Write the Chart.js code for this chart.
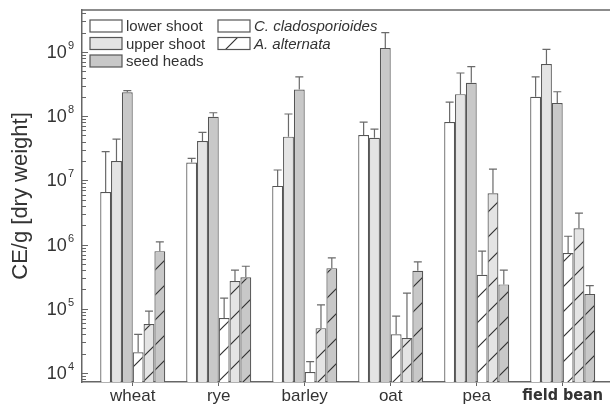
<!DOCTYPE html>
<html>
<head>
<meta charset="utf-8">
<script src="https://cdn.jsdelivr.net/npm/chart.js@4.4.1/dist/chart.umd.min.js"></script>
<style>
    html, body { margin: 0; padding: 0; background: #fff; overflow: hidden; }
</style>
</head>
<body>
<canvas id="chart" width="610" height="405"></canvas>
<script>
const crops = ["wheat", "rye", "barley", "oat", "pea", "field bean"];
const yTickValues = [1e4, 1e5, 1e6, 1e7, 1e8, 1e9];

// C. cladosporioides (CE/g), bar value and top of error bar
const cladoLower = [6.6e6, 1.9e7, 8.2e6, 5.1e7, 8.1e7, 2.0e8];
const cladoLowerTop = [2.8e7, 2.2e7, 1.45e7, 8.1e7, 1.66e8, 4.1e8];
const cladoUpper = [2.0e7, 4.1e7, 4.8e7, 4.6e7, 2.2e8, 6.5e8];
const cladoUpperTop = [4.4e7, 5.6e7, 1.08e8, 6.3e7, 4.7e8, 1.1e9];
const cladoSeed = [2.35e8, 9.8e7, 2.6e8, 1.15e9, 3.3e8, 1.6e8];
const cladoSeedTop = [2.5e8, 1.13e8, 4.1e8, 2.0e9, 5.9e8, 2.4e8];

// A. alternata
const altLower = [2.1e4, 7.2e4, 1.04e4, 4.0e4, 3.4e5, 7.4e5];
const altLowerTop = [4.0e4, 1.47e5, 1.5e4, 7.7e4, 7.9e5, 1.35e6];
const altUpper = [5.8e4, 2.7e5, 5.0e4, 3.5e4, 6.3e6, 1.8e6];
const altUpperTop = [9.2e4, 4.0e5, 1.15e5, 1.76e5, 1.5e7, 3.1e6];
const altSeed = [7.9e5, 3.1e5, 4.3e5, 3.9e5, 2.4e5, 1.7e5];
const altSeedTop = [1.1e6, 4.6e5, 6.2e5, 5.4e5, 4.0e5, 2.3e5];

const lowerColor = "#ffffff";
const upperColor = "#e4e4e4";
const seedColor = "#c8c8c8";
const edgeColor = "#555555";
const fontName = "'Liberation Sans', Arial, sans-serif";

function hatch(fill) {
    let c = document.createElement("canvas");
    c.width = 25;
    c.height = 25;
    let g = c.getContext("2d");
    g.fillStyle = fill;
    g.fillRect(0, 0, 25, 25);
    g.strokeStyle = "#333";
    g.lineWidth = 1.2;
    g.beginPath();
    g.moveTo(-2, 27); g.lineTo(27, -2);
    g.moveTo(-2, 2); g.lineTo(2, -2);
    g.moveTo(23, 27); g.lineTo(27, 23);
    g.stroke();
    return g.createPattern(c, "repeat");
}

function series(values, tops, fill) {
    return {
        data: values.map((v, i) => ({ x: i, y: v })),
        errTop: tops,
        backgroundColor: fill,
        borderColor: edgeColor,
        borderWidth: 1.2,
        barPercentage: 1,
        categoryPercentage: 0.756,
    };
}

const errorBars = {
    id: "errorBars",
    afterDatasetsDraw(chart) {
        const ctx = chart.ctx;
        const y = chart.scales.y;
        ctx.save();
        ctx.strokeStyle = "#6a6a6a";
        ctx.lineWidth = 1.2;
        chart.data.datasets.forEach((ds, i) => {
            chart.getDatasetMeta(i).data.forEach((bar, j) => {
                let top = y.getPixelForValue(ds.errTop[j]);
                ctx.beginPath();
                ctx.moveTo(bar.x, bar.y);
                ctx.lineTo(bar.x, top);
                ctx.moveTo(bar.x - 4, top);
                ctx.lineTo(bar.x + 4, top);
                ctx.stroke();
            });
        });
        ctx.restore();
    },
};

// frame, inward log ticks, 10^n labels and the legend
const decorations = {
    id: "decorations",
    afterDraw(chart) {
        const ctx = chart.ctx;
        const { left, right, top } = chart.chartArea;
        const y = chart.scales.y;
        ctx.save();

        ctx.strokeStyle = "#666";
        ctx.lineWidth = 1.5;
        ctx.beginPath();
        ctx.moveTo(left, top);
        ctx.lineTo(right, top);
        ctx.stroke();

        ctx.lineWidth = 1;
        ctx.beginPath();
        for (let e = 3; e <= 9; e++) {
            for (let m = 1; m <= 9; m++) {
                let v = m * Math.pow(10, e);
                if (v < y.min || v > y.max) continue;
                let py = Math.round(y.getPixelForValue(v)) + 0.5;
                ctx.moveTo(left, py);
                ctx.lineTo(left + (m == 1 ? 6 : 4), py);
            }
        }
        ctx.stroke();

        ctx.fillStyle = "#333";
        ctx.textBaseline = "middle";
        ctx.textAlign = "left";
        for (let tick of y.ticks) {
            let py = y.getPixelForValue(tick.value);
            let exp = String(Math.round(Math.log10(tick.value)));
            ctx.font = "11px " + fontName;
            let expWidth = ctx.measureText(exp).width;
            ctx.font = "18px " + fontName;
            let baseWidth = ctx.measureText("10").width;
            let x0 = left - 9 - expWidth - baseWidth;
            ctx.fillText("10", x0, py + 1);
            ctx.font = "11px " + fontName;
            ctx.fillText(exp, x0 + baseWidth + 1, py - 6);
        }

        const rows = [
            { x: left + 8, y: top + 16, fill: lowerColor, text: "lower shoot", italic: false },
            { x: left + 8, y: top + 33.5, fill: upperColor, text: "upper shoot", italic: false },
            { x: left + 8, y: top + 51, fill: seedColor, text: "seed heads", italic: false },
            { x: left + 136, y: top + 16, fill: lowerColor, text: "C. cladosporioides", italic: true },
            { x: left + 136, y: top + 33.5, fill: hatch(lowerColor), text: "A. alternata", italic: true },
        ];
        for (let row of rows) {
            ctx.fillStyle = row.fill;
            ctx.fillRect(row.x, row.y - 6, 32, 12);
            ctx.strokeStyle = edgeColor;
            ctx.lineWidth = 1.2;
            ctx.strokeRect(row.x, row.y - 6, 32, 12);
            ctx.fillStyle = "#333";
            ctx.font = (row.italic ? "italic " : "") + "15px " + fontName;
            ctx.fillText(row.text, row.x + 36, row.y + 1);
        }
        ctx.restore();
    },
};

new Chart(document.getElementById("chart"), {
    type: "bar",
    data: {
        datasets: [
            series(cladoLower, cladoLowerTop, lowerColor),
            series(cladoUpper, cladoUpperTop, upperColor),
            series(cladoSeed, cladoSeedTop, seedColor),
            series(altLower, altLowerTop, hatch(lowerColor)),
            series(altUpper, altUpperTop, hatch(upperColor)),
            series(altSeed, altSeedTop, hatch(seedColor)),
        ],
    },
    options: {
        responsive: false,
        animation: false,
        devicePixelRatio: 1,
        layout: { padding: { top: 10, right: 0, left: 0, bottom: 0 } },
        plugins: {
            legend: { display: false },
            tooltip: { enabled: false },
        },
        scales: {
            x: {
                type: "linear",
                offset: false,
                min: -0.59,
                max: 5.55,
                afterBuildTicks(scale) {
                    scale.ticks = crops.map((c, i) => ({ value: i }));
                },
                afterFit(scale) {
                    scale.height = 23;
                },
                ticks: {
                    autoSkip: false,
                    maxRotation: 0,
                    padding: 0,
                    color: "#333",
                    callback: (v) => crops[v],
                    font: (ctx) => ctx.index == 5
                        ? { family: "'Liberation Sans Narrow', 'DejaVu Sans Condensed', " + fontName, size: 16, weight: "bold" }
                        : { family: fontName, size: 17 },
                },
                grid: {
                    offset: false,
                    drawOnChartArea: false,
                    drawTicks: true,
                    tickLength: 4,
                    color: "#666",
                },
                border: { color: "#666", width: 1.5 },
            },
            y: {
                type: "logarithmic",
                min: 7250,
                max: 4.5e9,
                afterBuildTicks(scale) {
                    scale.ticks = yTickValues.map((v) => ({ value: v }));
                },
                afterFit(scale) {
                    scale.width = 82;
                },
                ticks: { display: false },
                grid: { display: false },
                border: { color: "#666", width: 1.5 },
                title: {
                    display: true,
                    text: "CE/g [dry weight]",
                    color: "#333",
                    font: { family: fontName, size: 22 },
                    padding: { top: 8, bottom: 0 },
                },
            },
        },
    },
    plugins: [errorBars, decorations],
});
</script>
</body>
</html>
